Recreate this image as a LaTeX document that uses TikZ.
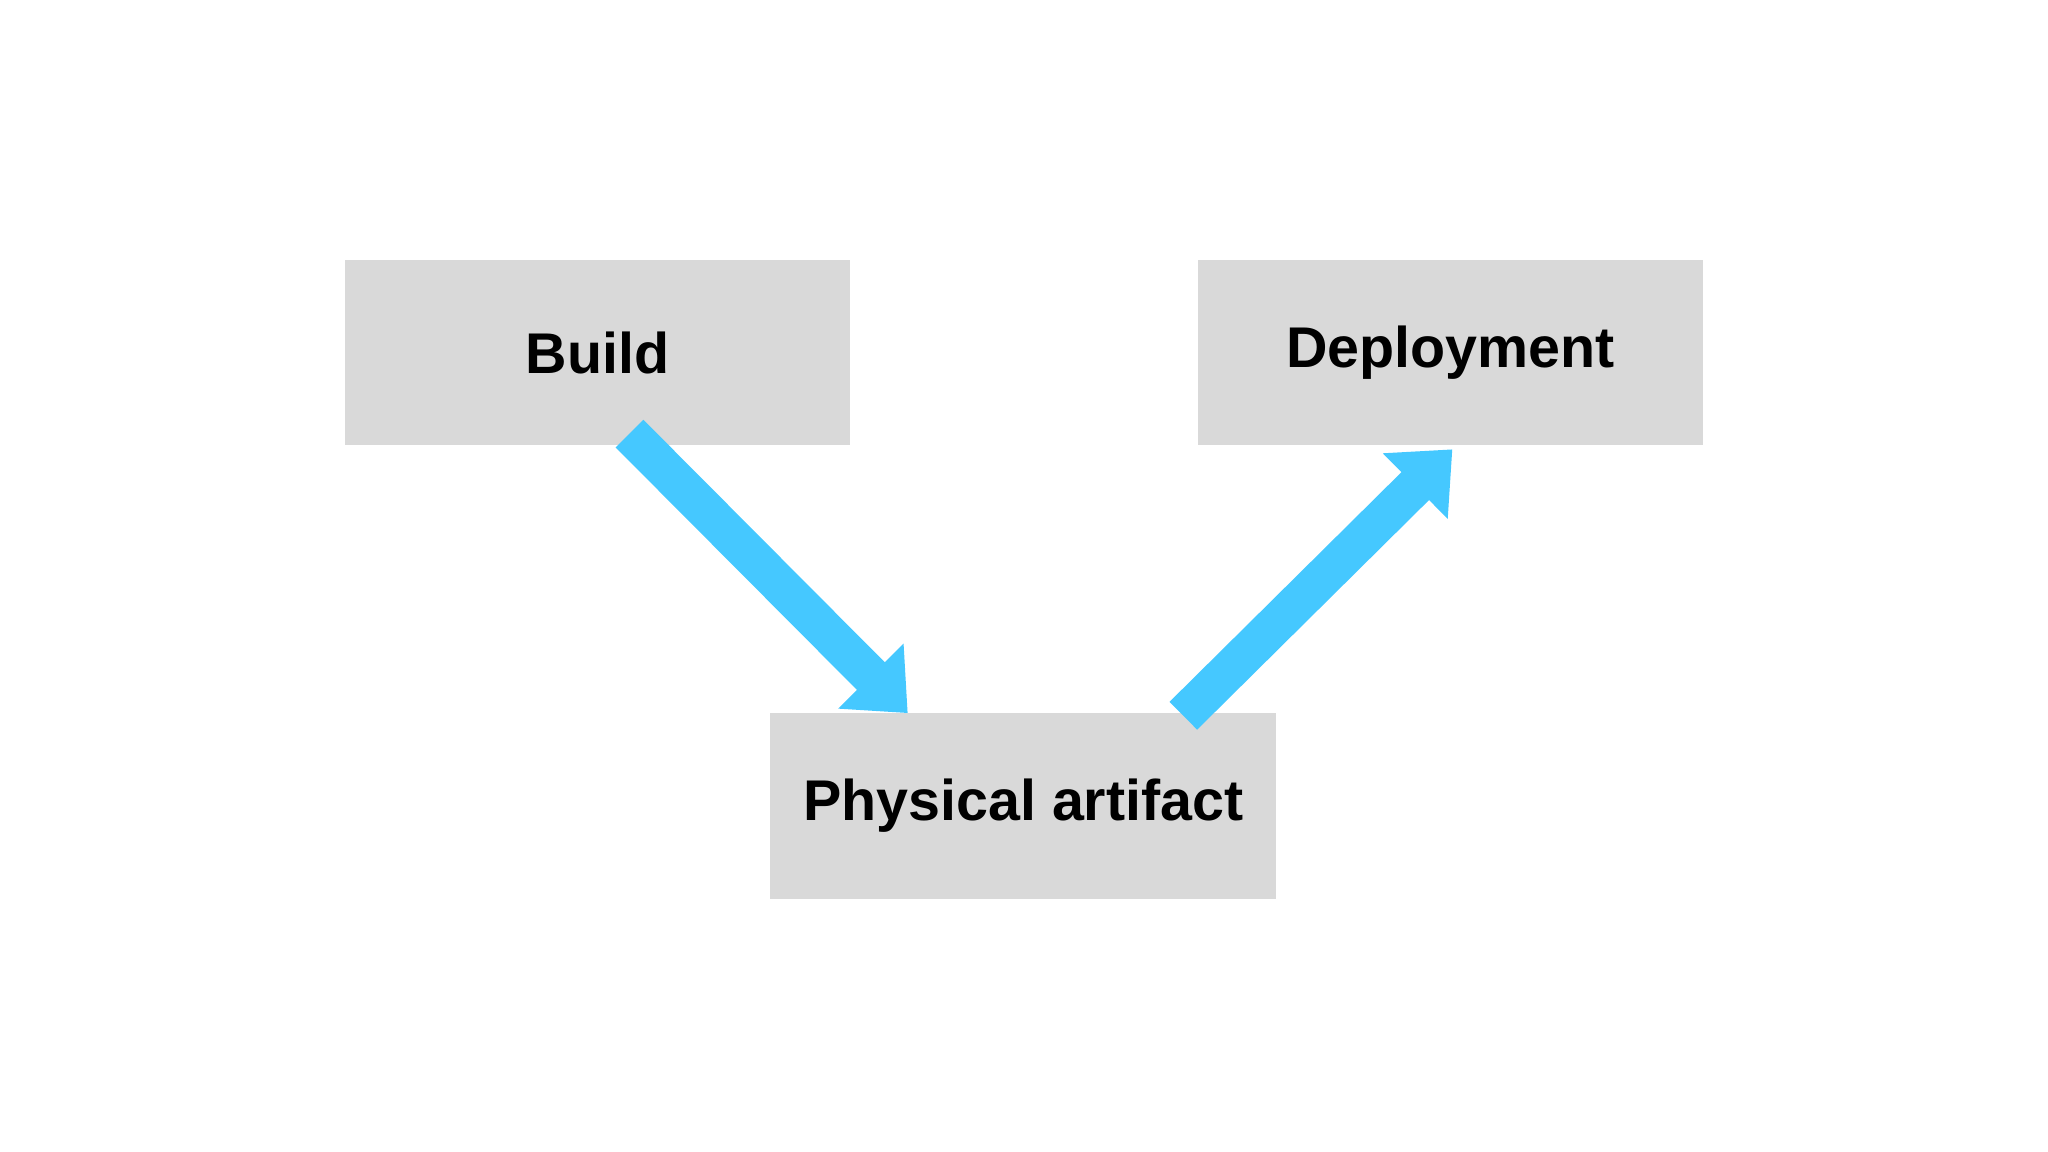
\documentclass[tikz,border=0pt]{standalone}
\usepackage{fontspec}
\setmainfont{Liberation Sans}
\usetikzlibrary{arrows.meta}
\definecolor{boxgray}{HTML}{D9D9D9}
\definecolor{arrowblue}{HTML}{45C8FF}
\begin{document}
\begin{tikzpicture}[x=0.01cm,y=-0.01cm,
  box/.style={fill=boxgray,draw=none,minimum width=3.87cm,minimum height=1.42cm,inner sep=0pt,font=\fontsize{12.5}{15}\selectfont\bfseries},
  flow/.style={draw=arrowblue,line width=0.3cm,-{Triangle[length=0.4cm,width=0.68cm]}}]
\useasboundingbox (0,0) rectangle (1568,882);
\fill[white] (0,0) rectangle (1568,882);
\node[box] (build) at (457.5,270) {Build};
\node[box] (deploy) at (1110.5,270) {Deployment};
\node[box] (phys) at (783.5,617) {Physical artifact};
\coordinate (s1) at (482,332);
\coordinate (e1) at (695,546);
\coordinate (s2) at (906,548);
\coordinate (e2) at (1112,344);
\draw[flow] (s1) -- (e1);
\draw[flow] (s2) -- (e2);
\end{tikzpicture}
\end{document}
